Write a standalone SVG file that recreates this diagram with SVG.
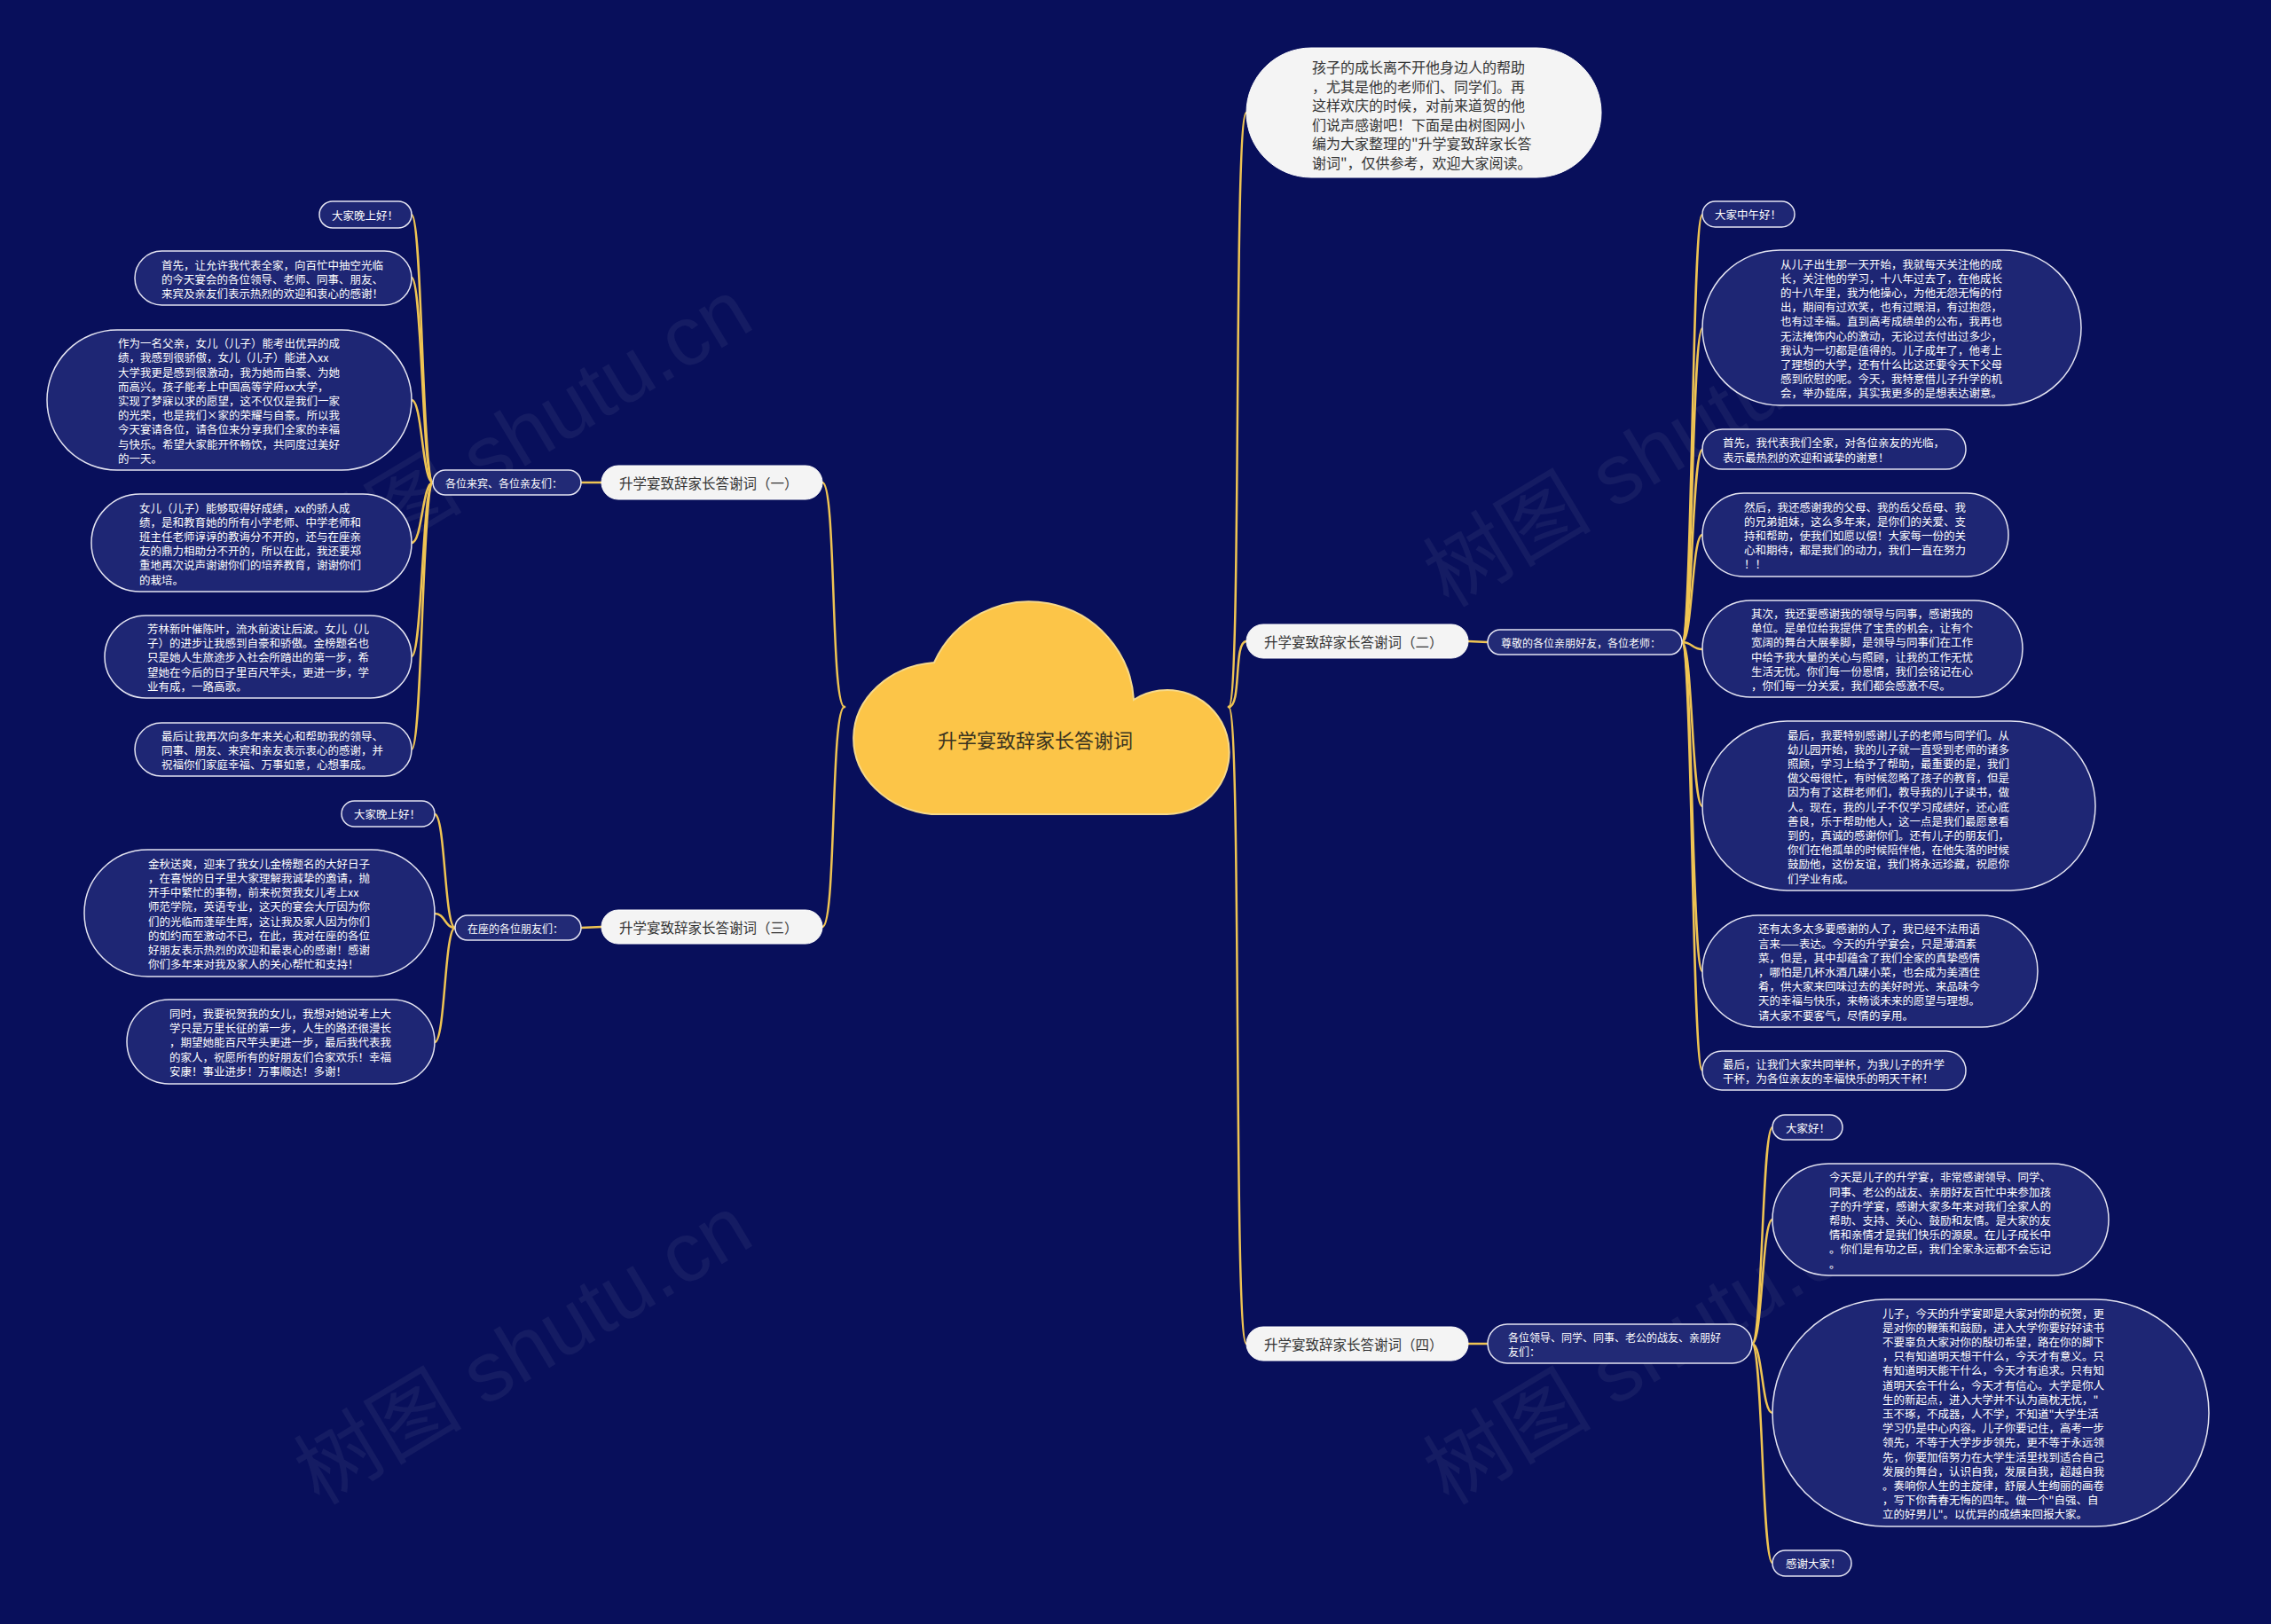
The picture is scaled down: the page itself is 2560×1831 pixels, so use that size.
<svg xmlns="http://www.w3.org/2000/svg" width="2560" height="1831" viewBox="0 0 2560 1831">
<style>
.main rect{fill:#f4f4f4;stroke:#ffffff;stroke-width:1}
.main text{fill:#333333;font-size:15.5px}
.sub rect{fill:#222a76;stroke:#e4e4f2;stroke-width:1.5}
.sub text{fill:#ffffff;font-size:12px}
.leaf rect{fill:#1e2674;stroke:#e4e4f2;stroke-width:1.5}
.leaf text{fill:#ffffff;font-size:12.5px}
text{font-family:"Noto Sans CJK SC","Noto Sans",sans-serif;dominant-baseline:central}
.conn path{fill:none;stroke:#efc453;stroke-width:2.5;stroke-linecap:round}
.wm{font-family:"Liberation Sans","Noto Sans CJK SC",sans-serif;font-size:95px;fill:#ffffff;opacity:0.05;dominant-baseline:auto}
</style>
<rect width="2560" height="1831" fill="#080f5b"/>
<g id="watermarks">
<text class="wm" x="360" y="665" transform="rotate(-31 360 665)">树图 shutu.cn</text>
<text class="wm" x="360" y="1698" transform="rotate(-31 360 1698)">树图 shutu.cn</text>
<text class="wm" x="1633" y="686" transform="rotate(-31 1633 686)">树图 shutu.cn</text>
<text class="wm" x="1633" y="1698" transform="rotate(-31 1633 1698)">树图 shutu.cn</text>
</g>
<g class="conn" id="connectors">
<path d="M952 797 C936 797 943 544 927 544"/>
<path d="M952 797 C936 797 943 1045 927 1045"/>
<path d="M1385 797 C1400 797 1390 127 1405 127"/>
<path d="M1385 797 C1400 797 1390 723 1405 723"/>
<path d="M1385 797 C1400 797 1390 1515 1405 1515"/>
<path d="M655 544 L678 544"/>
<path d="M655 1046 L678 1045"/>
<path d="M1655 723 L1677 724"/>
<path d="M1655 1515 L1677 1515"/>
<path d="M488 544 C476 544 476 242 464 242"/>
<path d="M488 544 C476 544 476 313 464 313"/>
<path d="M488 544 C476 544 476 451 464 451"/>
<path d="M488 544 C476 544 476 612 464 612"/>
<path d="M488 544 C476 544 476 740 464 740"/>
<path d="M488 544 C476 544 476 845 464 845"/>
<path d="M513 1046 C501 1046 502 918 490 918"/>
<path d="M513 1046 C501 1046 502 1030 490 1030"/>
<path d="M513 1046 C501 1046 502 1175 490 1175"/>
<path d="M1896 724 C1908 724 1907 242 1919 242"/>
<path d="M1896 724 C1908 724 1907 370 1919 370"/>
<path d="M1896 724 C1908 724 1907 507 1919 507"/>
<path d="M1896 724 C1908 724 1907 603 1919 603"/>
<path d="M1896 724 C1908 724 1907 732 1919 732"/>
<path d="M1896 724 C1908 724 1907 909 1919 909"/>
<path d="M1896 724 C1908 724 1907 1095 1919 1095"/>
<path d="M1896 724 C1908 724 1907 1207 1919 1207"/>
<path d="M1975 1515 C1987 1515 1986 1271 1998 1271"/>
<path d="M1975 1515 C1987 1515 1986 1375 1998 1375"/>
<path d="M1975 1515 C1987 1515 1986 1593 1998 1593"/>
<path d="M1975 1515 C1987 1515 1986 1762 1998 1762"/>
</g>
<g id="root">
<path d="M1053 747 A118 118 0 0 1 1278 789 A70 70 0 1 1 1315 918 L1050 918 A100 86 0 0 1 1053 747 Z" fill="#fcc548" stroke="#f6d98a" stroke-width="2"/>
<text x="1167" y="833" text-anchor="middle" font-size="22" fill="#3a3420">升学宴致辞家长答谢词</text>
</g>
<g id="intro" class="main">
<rect x="1405" y="54" width="400" height="146" rx="73"/>
<text style="font-size:16px">
<tspan x="1479" y="75">孩子的成长离不开他身边人的帮助</tspan>
<tspan x="1479" y="96.5">，尤其是他的老师们、同学们。再</tspan>
<tspan x="1479" y="118">这样欢庆的时候，对前来道贺的他</tspan>
<tspan x="1479" y="139.5">们说声感谢吧！下面是由树图网小</tspan>
<tspan x="1479" y="161">编为大家整理的"升学宴致辞家长答</tspan>
<tspan x="1479" y="182.5">谢词"，仅供参考，欢迎大家阅读。</tspan>
</text>
</g>
<g id="b1" class="main"><rect x="678" y="525" width="249" height="38" rx="19"/><text x="698" y="544">升学宴致辞家长答谢词（一）</text></g>
<g id="b3" class="main"><rect x="678" y="1026" width="249" height="38" rx="19"/><text x="698" y="1045">升学宴致辞家长答谢词（三）</text></g>
<g id="b2" class="main"><rect x="1405" y="704" width="250" height="38" rx="19"/><text x="1425" y="723">升学宴致辞家长答谢词（二）</text></g>
<g id="b4" class="main"><rect x="1405" y="1496" width="250" height="38" rx="19"/><text x="1425" y="1515">升学宴致辞家长答谢词（四）</text></g>
<g id="s1" class="sub"><rect x="488" y="530" width="167" height="28" rx="14"/><text x="502" y="544">各位来宾、各位亲友们：</text></g>
<g id="s3" class="sub"><rect x="513" y="1032" width="142" height="28" rx="14"/><text x="527" y="1046">在座的各位朋友们：</text></g>
<g id="s2" class="sub"><rect x="1677" y="710" width="219" height="28" rx="14"/><text x="1692" y="724">尊敬的各位亲朋好友，各位老师：</text></g>
<g id="s4" class="sub"><rect x="1677" y="1493" width="298" height="44" rx="22"/><text><tspan x="1700" y="1507">各位领导、同学、同事、老公的战友、亲朋好</tspan><tspan x="1700" y="1523">友们：</tspan></text></g>
<g id="l1a" class="leaf"><rect x="360" y="227" width="104" height="30" rx="15"/><text x="374" y="242">大家晚上好！</text></g>
<g id="l1b" class="leaf"><rect x="152" y="283" width="312" height="61" rx="30.5"/><text>
<tspan x="182" y="297.5">首先，让允许我代表全家，向百忙中抽空光临</tspan>
<tspan x="182" y="313.7">的今天宴会的各位领导、老师、同事、朋友、</tspan>
<tspan x="182" y="329.9">来宾及亲友们表示热烈的欢迎和衷心的感谢！</tspan></text></g>
<g id="l1c" class="leaf"><rect x="53" y="372" width="411" height="158" rx="79"/><text>
<tspan x="133" y="386.2">作为一名父亲，女儿（儿子）能考出优异的成</tspan>
<tspan x="133" y="402.4">绩，我感到很骄傲，女儿（儿子）能进入xx</tspan>
<tspan x="133" y="418.6">大学我更是感到很激动，我为她而自豪、为她</tspan>
<tspan x="133" y="434.8">而高兴。孩子能考上中国高等学府xx大学，</tspan>
<tspan x="133" y="451">实现了梦寐以求的愿望，这不仅仅是我们一家</tspan>
<tspan x="133" y="467.2">的光荣，也是我们×家的荣耀与自豪。所以我</tspan>
<tspan x="133" y="483.4">今天宴请各位，请各位来分享我们全家的幸福</tspan>
<tspan x="133" y="499.6">与快乐。希望大家能开怀畅饮，共同度过美好</tspan>
<tspan x="133" y="515.8">的一天。</tspan></text></g>
<g id="l1d" class="leaf"><rect x="103" y="557" width="361" height="110" rx="55"/><text>
<tspan x="157" y="571.5">女儿（儿子）能够取得好成绩，xx的骄人成</tspan>
<tspan x="157" y="587.7">绩，是和教育她的所有小学老师、中学老师和</tspan>
<tspan x="157" y="603.9">班主任老师谆谆的教诲分不开的，还与在座亲</tspan>
<tspan x="157" y="620.1">友的鼎力相助分不开的，所以在此，我还要郑</tspan>
<tspan x="157" y="636.3">重地再次说声谢谢你们的培养教育，谢谢你们</tspan>
<tspan x="157" y="652.5">的栽培。</tspan></text></g>
<g id="l1e" class="leaf"><rect x="118" y="694" width="346" height="93" rx="46.5"/><text>
<tspan x="166" y="708">芳林新叶催陈叶，流水前波让后波。女儿（儿</tspan>
<tspan x="166" y="724.2">子）的进步让我感到自豪和骄傲。金榜题名也</tspan>
<tspan x="166" y="740.4">只是她人生旅途步入社会所踏出的第一步，希</tspan>
<tspan x="166" y="756.6">望她在今后的日子里百尺竿头，更进一步，学</tspan>
<tspan x="166" y="772.8">业有成，一路高歌。</tspan></text></g>
<g id="l1f" class="leaf"><rect x="152" y="815" width="312" height="60" rx="30"/><text>
<tspan x="182" y="828.8">最后让我再次向多年来关心和帮助我的领导、</tspan>
<tspan x="182" y="845">同事、朋友、来宾和亲友表示衷心的感谢，并</tspan>
<tspan x="182" y="861.2">祝福你们家庭幸福、万事如意，心想事成。</tspan></text></g>
<g id="l3a" class="leaf"><rect x="385" y="903" width="105" height="29" rx="14.5"/><text x="399" y="917.5">大家晚上好！</text></g>
<g id="l3b" class="leaf"><rect x="95" y="958" width="395" height="143" rx="71.5"/><text>
<tspan x="167" y="972.8">金秋送爽，迎来了我女儿金榜题名的大好日子</tspan>
<tspan x="167" y="989">，在喜悦的日子里大家理解我诚挚的邀请，抛</tspan>
<tspan x="167" y="1005.2">开手中繁忙的事物，前来祝贺我女儿考上xx</tspan>
<tspan x="167" y="1021.4">师范学院，英语专业，这天的宴会大厅因为你</tspan>
<tspan x="167" y="1037.6">们的光临而蓬荜生辉，这让我及家人因为你们</tspan>
<tspan x="167" y="1053.8">的如约而至激动不已，在此，我对在座的各位</tspan>
<tspan x="167" y="1070">好朋友表示热烈的欢迎和最衷心的感谢！感谢</tspan>
<tspan x="167" y="1086.2">你们多年来对我及家人的关心帮忙和支持！</tspan></text></g>
<g id="l3c" class="leaf"><rect x="143" y="1127" width="347" height="95" rx="47.5"/><text>
<tspan x="191" y="1142">同时，我要祝贺我的女儿，我想对她说考上大</tspan>
<tspan x="191" y="1158.2">学只是万里长征的第一步，人生的路还很漫长</tspan>
<tspan x="191" y="1174.4">，期望她能百尺竿头更进一步，最后我代表我</tspan>
<tspan x="191" y="1190.6">的家人，祝愿所有的好朋友们合家欢乐！幸福</tspan>
<tspan x="191" y="1206.8">安康！事业进步！万事顺达！多谢！</tspan></text></g>
<g id="l2a" class="leaf"><rect x="1919" y="227" width="104" height="29" rx="14.5"/><text x="1933" y="241.5">大家中午好！</text></g>
<g id="l2b" class="leaf"><rect x="1919" y="282" width="427" height="175" rx="87.5"/><text>
<tspan x="2007" y="296.6">从儿子出生那一天开始，我就每天关注他的成</tspan>
<tspan x="2007" y="312.8">长，关注他的学习，十八年过去了，在他成长</tspan>
<tspan x="2007" y="329">的十八年里，我为他操心，为他无怨无悔的付</tspan>
<tspan x="2007" y="345.2">出，期间有过欢笑，也有过眼泪，有过抱怨，</tspan>
<tspan x="2007" y="361.4">也有过幸福。直到高考成绩单的公布，我再也</tspan>
<tspan x="2007" y="377.6">无法掩饰内心的激动，无论过去付出过多少，</tspan>
<tspan x="2007" y="393.8">我认为一切都是值得的。儿子成年了，他考上</tspan>
<tspan x="2007" y="410">了理想的大学，还有什么比这还要令天下父母</tspan>
<tspan x="2007" y="426.2">感到欣慰的呢。今天，我特意借儿子升学的机</tspan>
<tspan x="2007" y="442.4">会，举办筵席，其实我更多的是想表达谢意。</tspan></text></g>
<g id="l2c" class="leaf"><rect x="1919" y="484" width="297" height="45" rx="22.5"/><text>
<tspan x="1942" y="498.4">首先，我代表我们全家，对各位亲友的光临，</tspan>
<tspan x="1942" y="514.6">表示最热烈的欢迎和诚挚的谢意！</tspan></text></g>
<g id="l2d" class="leaf"><rect x="1919" y="556" width="345" height="94" rx="47"/><text>
<tspan x="1966" y="570.6">然后，我还感谢我的父母、我的岳父岳母、我</tspan>
<tspan x="1966" y="586.8">的兄弟姐妹，这么多年来，是你们的关爱、支</tspan>
<tspan x="1966" y="603">持和帮助，使我们如愿以偿！大家每一份的关</tspan>
<tspan x="1966" y="619.2">心和期待，都是我们的动力，我们一直在努力</tspan>
<tspan x="1966" y="635.4">！！</tspan></text></g>
<g id="l2e" class="leaf"><rect x="1919" y="677" width="361" height="109" rx="54.5"/><text>
<tspan x="1974" y="691">其次，我还要感谢我的领导与同事，感谢我的</tspan>
<tspan x="1974" y="707.2">单位。是单位给我提供了宝贵的机会，让有个</tspan>
<tspan x="1974" y="723.4">宽阔的舞台大展拳脚，是领导与同事们在工作</tspan>
<tspan x="1974" y="739.6">中给予我大量的关心与照顾，让我的工作无忧</tspan>
<tspan x="1974" y="755.8">生活无忧。你们每一份恩情，我们会铭记在心</tspan>
<tspan x="1974" y="772">，你们每一分关爱，我们都会感激不尽。</tspan></text></g>
<g id="l2f" class="leaf"><rect x="1919" y="813" width="443" height="191" rx="95.5"/><text>
<tspan x="2015" y="827.5">最后，我要特别感谢儿子的老师与同学们。从</tspan>
<tspan x="2015" y="843.7">幼儿园开始，我的儿子就一直受到老师的诸多</tspan>
<tspan x="2015" y="859.9">照顾，学习上给予了帮助，最重要的是，我们</tspan>
<tspan x="2015" y="876.1">做父母很忙，有时候忽略了孩子的教育，但是</tspan>
<tspan x="2015" y="892.3">因为有了这群老师们，教导我的儿子读书，做</tspan>
<tspan x="2015" y="908.5">人。现在，我的儿子不仅学习成绩好，还心底</tspan>
<tspan x="2015" y="924.7">善良，乐于帮助他人，这一点是我们最愿意看</tspan>
<tspan x="2015" y="940.9">到的，真诚的感谢你们。还有儿子的朋友们，</tspan>
<tspan x="2015" y="957.1">你们在他孤单的时候陪伴他，在他失落的时候</tspan>
<tspan x="2015" y="973.3">鼓励他，这份友谊，我们将永远珍藏，祝愿你</tspan>
<tspan x="2015" y="989.5">们学业有成。</tspan></text></g>
<g id="l2g" class="leaf"><rect x="1919" y="1032" width="378" height="126" rx="63"/><text>
<tspan x="1982" y="1046.4">还有太多太多要感谢的人了，我已经不法用语</tspan>
<tspan x="1982" y="1062.6">言来——表达。今天的升学宴会，只是薄酒素</tspan>
<tspan x="1982" y="1078.8">菜，但是，其中却蕴含了我们全家的真挚感情</tspan>
<tspan x="1982" y="1095">，哪怕是几杯水酒几碟小菜，也会成为美酒佳</tspan>
<tspan x="1982" y="1111.2">肴，供大家来回味过去的美好时光、来品味今</tspan>
<tspan x="1982" y="1127.4">天的幸福与快乐，来畅谈未来的愿望与理想。</tspan>
<tspan x="1982" y="1143.6">请大家不要客气，尽情的享用。</tspan></text></g>
<g id="l2h" class="leaf"><rect x="1919" y="1185" width="297" height="44" rx="22"/><text>
<tspan x="1942" y="1198.9">最后，让我们大家共同举杯，为我儿子的升学</tspan>
<tspan x="1942" y="1215.1">干杯，为各位亲友的幸福快乐的明天干杯！</tspan></text></g>
<g id="l4a" class="leaf"><rect x="1998" y="1257" width="79" height="28" rx="14"/><text x="2013" y="1271">大家好！</text></g>
<g id="l4b" class="leaf"><rect x="1998" y="1312" width="379" height="126" rx="63"/><text>
<tspan x="2062" y="1326.4">今天是儿子的升学宴，非常感谢领导、同学、</tspan>
<tspan x="2062" y="1342.6">同事、老公的战友、亲朋好友百忙中来参加孩</tspan>
<tspan x="2062" y="1358.8">子的升学宴，感谢大家多年来对我们全家人的</tspan>
<tspan x="2062" y="1375">帮助、支持、关心、鼓励和友情。是大家的友</tspan>
<tspan x="2062" y="1391.2">情和亲情才是我们快乐的源泉。在儿子成长中</tspan>
<tspan x="2062" y="1407.4">。你们是有功之臣，我们全家永远都不会忘记</tspan>
<tspan x="2062" y="1423.6">。</tspan></text></g>
<g id="l4c" class="leaf"><rect x="1998" y="1465" width="492" height="256" rx="128"/><text>
<tspan x="2122" y="1479.6">儿子，今天的升学宴即是大家对你的祝贺，更</tspan>
<tspan x="2122" y="1495.8">是对你的鞭策和鼓励，进入大学你要好好读书</tspan>
<tspan x="2122" y="1512">不要辜负大家对你的殷切希望，路在你的脚下</tspan>
<tspan x="2122" y="1528.2">，只有知道明天想干什么，今天才有意义。只</tspan>
<tspan x="2122" y="1544.4">有知道明天能干什么，今天才有追求。只有知</tspan>
<tspan x="2122" y="1560.6">道明天会干什么，今天才有信心。大学是你人</tspan>
<tspan x="2122" y="1576.8">生的新起点，进入大学并不认为高枕无忧，"</tspan>
<tspan x="2122" y="1593">玉不琢，不成器，人不学，不知道"大学生活</tspan>
<tspan x="2122" y="1609.2">学习仍是中心内容。儿子你要记住，高考一步</tspan>
<tspan x="2122" y="1625.4">领先，不等于大学步步领先，更不等于永远领</tspan>
<tspan x="2122" y="1641.6">先，你要加倍努力在大学生活里找到适合自己</tspan>
<tspan x="2122" y="1657.8">发展的舞台，认识自我，发展自我，超越自我</tspan>
<tspan x="2122" y="1674">。奏响你人生的主旋律，舒展人生绚丽的画卷</tspan>
<tspan x="2122" y="1690.2">，写下你青春无悔的四年。做一个"自强、自</tspan>
<tspan x="2122" y="1706.4">立的好男儿"。以优异的成绩来回报大家。</tspan></text></g>
<g id="l4d" class="leaf"><rect x="1998" y="1748" width="89" height="29" rx="14.5"/><text x="2013" y="1762.5">感谢大家！</text></g>
</svg>
